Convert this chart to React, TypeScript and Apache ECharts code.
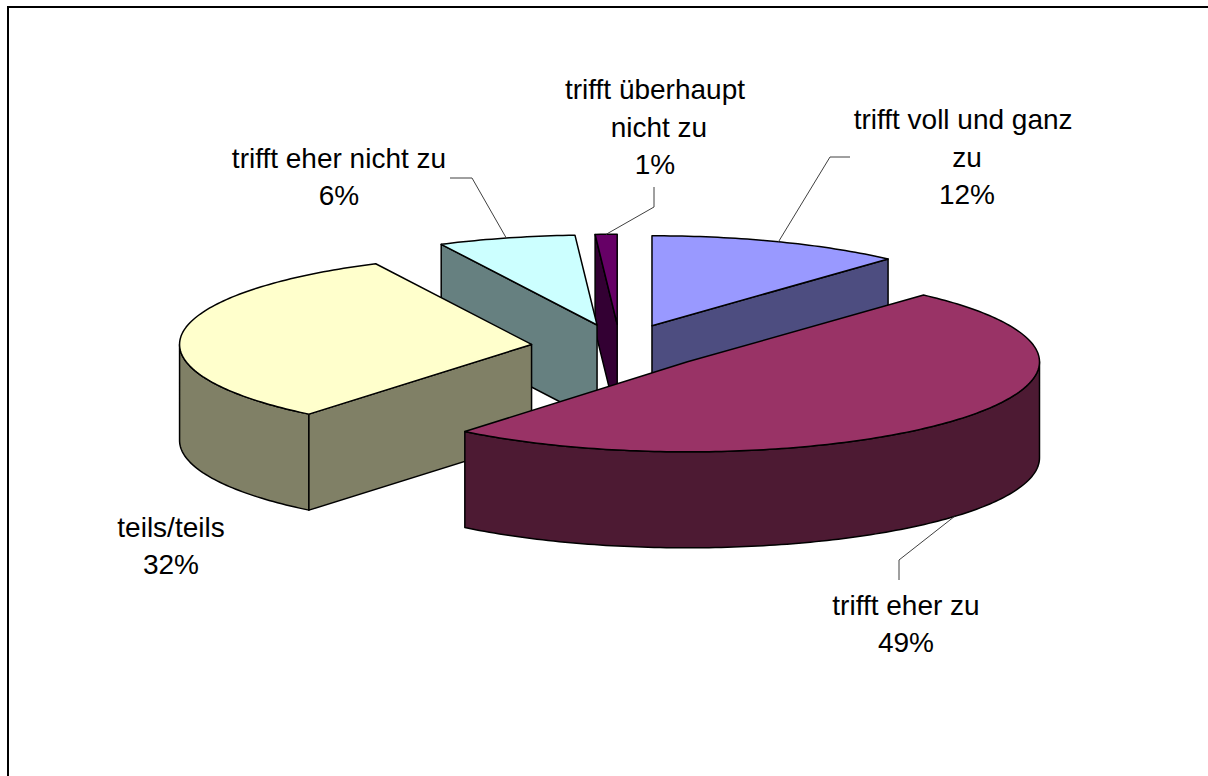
import React, { useEffect, useRef } from 'react';
import * as echarts from 'echarts';

// ---- data ----
const categories = [
  'trifft voll und ganz zu',
  'trifft eher zu',
  'teils/teils',
  'trifft eher nicht zu',
  'trifft überhaupt nicht zu',
];
const values = [11.7, 49.2, 31.8, 6.3, 1.0];

// ---- styles ----
const topColors = ['#9999FF', '#993366', '#FFFFCC', '#CCFFFF', '#660066'];
const sideColors = ['#4D4D80', '#4D1A33', '#808066', '#668080', '#330033'];

// ---- layout (pixels) ----
const PIE = { cx: 620, cy: 347, rx: 352, ry: 90, depth: 96, explode: 89 };
const labelCenters = [
  [967, 157],
  [906, 624],
  [171, 546],
  [339, 177],
  [655, 127],
];
const labelWidths = [240, 400, 400, 400, 200];
const leaderElbows: (number[][] | null)[] = [
  [[850, 157], [830, 157]],
  [[899, 580], [899, 560]],
  null,
  [[450, 178], [472, 178]],
  [[654, 187], [654, 207]],
];

const total = values.reduce((a, b) => a + b, 0);
const starts = values.map((_, i) => values.slice(0, i).reduce((a, b) => a + b, 0));

const FONT = '"Liberation Sans", Arial, sans-serif';

export default function App() {
  const ref = useRef<HTMLDivElement>(null);
  useEffect(() => {
    if (!ref.current) return;
    const chart = echarts.init(ref.current, undefined, { renderer: 'svg' });
    const rad = (d: number) => (d * Math.PI) / 180;
    const option: any = {
      animation: false,
      backgroundColor: '#ffffff',
      graphic: [
        {
          type: 'line',
          silent: true,
          shape: { x1: 8, y1: 776, x2: 8, y2: 6 },
          style: { stroke: '#000', lineWidth: 2 },
        },
        {
          type: 'line',
          silent: true,
          shape: { x1: 7, y1: 7, x2: 1208, y2: 7 },
          style: { stroke: '#000', lineWidth: 2 },
        },
      ],
      series: [
        {
          type: 'custom',
          coordinateSystem: 'none',
          silent: true,
          data: values.map((v, i) => [v, starts[i]]),
          renderItem: (params: any, api: any) => {
            const i = params.dataIndex;
            const v = api.value(0);
            const s = api.value(1);
            const a1 = (s / total) * 360;
            const a2 = ((s + v) / total) * 360;
            const mid = (a1 + a2) / 2;
            const k = PIE.ry / PIE.rx;
            const cx = PIE.cx + PIE.explode * Math.sin(rad(mid));
            const cy = PIE.cy - PIE.explode * Math.cos(rad(mid)) * k;
            const D = PIE.depth;
            const pt = (a: number, dy = 0) => [
              cx + PIE.rx * Math.sin(rad(a)),
              cy - PIE.ry * Math.cos(rad(a)) + dy,
            ];
            const arc = (from: number, to: number, dy = 0) => {
              const n = Math.max(2, Math.ceil(Math.abs(to - from)));
              const pts: number[][] = [];
              for (let j = 0; j <= n; j++) pts.push(pt(from + ((to - from) * j) / n, dy));
              return pts;
            };
            const front = -Math.cos(rad(mid));
            const baseZ = Math.round((front + 1) * 20) * 3;
            const edge = { stroke: '#000', lineWidth: 1.5, lineJoin: 'round' };
            const children: any[] = [];
            // outer wall (front half only)
            const lo = Math.max(a1, 90);
            const hi = Math.min(a2, 270);
            if (hi > lo) {
              children.push({
                type: 'polygon',
                z2: baseZ,
                shape: { points: arc(lo, hi, 0).concat(arc(lo, hi, D).reverse()) },
                style: { fill: sideColors[i], ...edge },
              });
            }
            // cut faces
            if (Math.sin(rad(a1)) < -1e-9) {
              children.push({
                type: 'polygon',
                z2: baseZ,
                shape: { points: [[cx, cy], pt(a1), pt(a1, D), [cx, cy + D]] },
                style: { fill: sideColors[i], ...edge },
              });
            }
            if (Math.sin(rad(a2)) > 1e-9) {
              children.push({
                type: 'polygon',
                z2: baseZ,
                shape: { points: [[cx, cy], pt(a2), pt(a2, D), [cx, cy + D]] },
                style: { fill: sideColors[i], ...edge },
              });
            }
            // top face
            children.push({
              type: 'polygon',
              z2: baseZ + 1,
              shape: { points: [[cx, cy]].concat(arc(a1, a2, 0)) },
              style: { fill: topColors[i], ...edge },
            });
            // leader line
            const elbows = leaderElbows[i];
            if (elbows) {
              const anchor = Math.cos(rad(mid)) > 0 ? pt(mid) : pt(mid, D);
              children.push({
                type: 'polyline',
                z2: 500,
                shape: { points: elbows.concat([anchor]) },
                style: { fill: null, stroke: '#404040', lineWidth: 1 },
              });
            }
            // label
            const pct = Math.round((v / total) * 100) + '%';
            children.push({
              type: 'text',
              z2: 501,
              style: {
                text: categories[i] + '\n' + pct,
                x: labelCenters[i][0],
                y: labelCenters[i][1],
                align: 'center',
                verticalAlign: 'middle',
                width: labelWidths[i],
                overflow: 'break',
                fontSize: 28,
                fontFamily: FONT,
                lineHeight: 37.5,
                fill: '#000',
              },
            });
            return { type: 'group', children };
          },
        },
      ],
    };
    chart.setOption(option);
    return () => chart.dispose();
  }, []);
  return (
    <div
      ref={ref}
      style={{ position: 'fixed', left: 0, top: 0, width: 1208, height: 776, background: '#fff' }}
    />
  );
}
